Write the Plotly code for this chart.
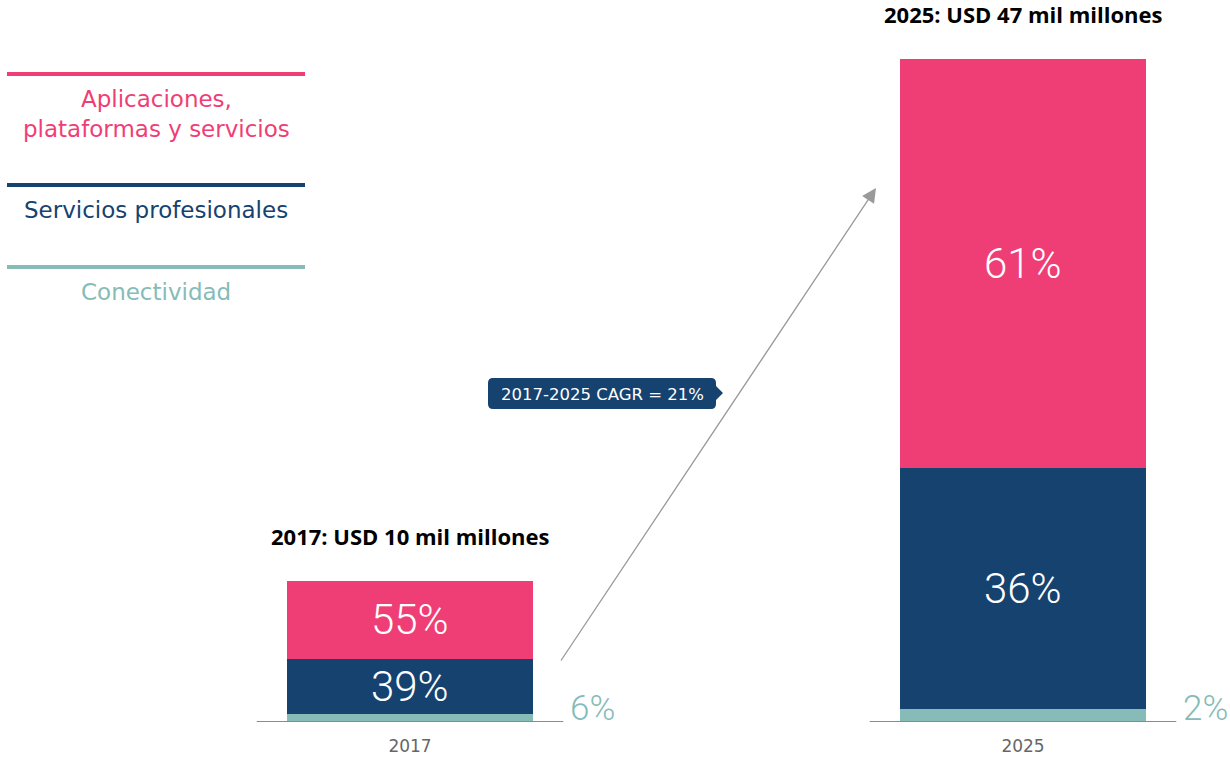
"""Mercado IoT: 2017 vs 2025, barras apiladas por segmento."""
import plotly.graph_objects as go

YEARS = ["2017", "2025"]
TOTALS = [10, 47]  # USD mil millones
SHARE_CONECTIVIDAD = [6, 2]
SHARE_SERVICIOS = [39, 36]
SHARE_APLICACIONES = [55, 61]
LEGEND_LABELS = ["Aplicaciones,<br>plataformas y servicios", "Servicios profesionales", "Conectividad"]
CAGR_TEXT = "2017-2025 CAGR = 21%"

PINK = "#EF3E75"
NAVY = "#164270"
TEAL = "#86BBB7"
GREY = "#8a8a8a"

W, H = 1230, 758
M_T, M_B = 17, 36
PCT_FONT = "Roboto, sans-serif"
TXT_FONT = "DejaVu Sans, sans-serif"
TITLE_FONT = "Open Sans, Noto Sans, sans-serif"


def px_x(px):
    return px / W


def px_y(py):
    return (H - M_B - py) / (H - M_T - M_B)


xs = list(range(len(YEARS)))
# las cuotas redondeadas no siempre suman 100: se reparten sobre el total
sums = [a + b + c for a, b, c in zip(SHARE_CONECTIVIDAD, SHARE_SERVICIOS, SHARE_APLICACIONES)]
vals_con = [t * s / n for t, s, n in zip(TOTALS, SHARE_CONECTIVIDAD, sums)]
vals_ser = [t * s / n for t, s, n in zip(TOTALS, SHARE_SERVICIOS, sums)]
vals_app = [t * s / n for t, s, n in zip(TOTALS, SHARE_APLICACIONES, sums)]

fig = go.Figure()
for name, vals, color in [
    ("Conectividad", vals_con, TEAL),
    ("Servicios profesionales", vals_ser, NAVY),
    ("Aplicaciones, plataformas y servicios", vals_app, PINK),
]:
    fig.add_trace(go.Bar(x=xs, y=vals, name=name, marker=dict(color=color, line=dict(width=0)),
                         width=0.401, showlegend=False))

annotations = []
shapes = []
for i, x in enumerate(xs):
    # línea base
    shapes.append(dict(type="line", xref="x", yref="y", x0=x - 0.25, x1=x + 0.25, y0=0, y1=0,
                       line=dict(color=GREY, width=2)))
    # etiquetas dentro de las barras
    base = vals_con[i]
    for vals, shares in [(vals_ser, SHARE_SERVICIOS), (vals_app, SHARE_APLICACIONES)]:
        annotations.append(dict(x=x, y=base + vals[i] / 2, xref="x", yref="y", showarrow=False,
                                text=f"{shares[i]}%",
                                font=dict(family=PCT_FONT, size=42, weight=300, color="white")))
        base += vals[i]
    annotations.append(dict(x=x + 0.257, y=0, xref="x", yref="y", xanchor="left", yanchor="bottom",
                            yshift=-9, showarrow=False, text=f"{SHARE_CONECTIVIDAD[i]}%",
                            font=dict(family=PCT_FONT, size=35, weight=300, color=TEAL)))
    # título encima de la barra
    annotations.append(dict(x=x, y=TOTALS[i], xref="x", yref="y", yanchor="bottom", yshift=28,
                            showarrow=False, text=f"<b>{YEARS[i]}: USD {TOTALS[i]} mil millones</b>",
                            font=dict(family=TITLE_FONT, size=22, color="black")))

# leyenda manual a la izquierda
for label, color, line_py, text_py in zip(LEGEND_LABELS, [PINK, NAVY, TEAL], [74, 185, 267], [114, 210, 292]):
    shapes.append(dict(type="line", xref="paper", yref="paper", x0=px_x(7), x1=px_x(305),
                       y0=px_y(line_py), y1=px_y(line_py), line=dict(color=color, width=4)))
    annotations.append(dict(x=px_x(156), y=px_y(text_py), xref="paper", yref="paper", showarrow=False,
                            xanchor="center", yanchor="middle", text=label,
                            font=dict(family=TXT_FONT, size=23, color=color)))

# flecha de crecimiento
annotations.append(dict(x=px_x(876), y=px_y(188), xref="paper", yref="paper", ax=560 - 876, ay=662 - 188,
                        text="", showarrow=True, arrowhead=2, arrowsize=2.2, arrowwidth=1.3, arrowcolor="#9a9a9a"))

# caja CAGR con esquinas redondeadas y pico a la derecha
x0, x1, y0, y1, r = 488, 716, 378, 409, 5
pts = [
    f"M {px_x(x0 + r)},{px_y(y0)}",
    f"L {px_x(x1 - r)},{px_y(y0)}",
    f"Q {px_x(x1)},{px_y(y0)} {px_x(x1)},{px_y(y0 + r)}",
    f"L {px_x(x1)},{px_y(386)}",
    f"L {px_x(723)},{px_y(393)}",
    f"L {px_x(x1)},{px_y(400)}",
    f"L {px_x(x1)},{px_y(y1 - r)}",
    f"Q {px_x(x1)},{px_y(y1)} {px_x(x1 - r)},{px_y(y1)}",
    f"L {px_x(x0 + r)},{px_y(y1)}",
    f"Q {px_x(x0)},{px_y(y1)} {px_x(x0)},{px_y(y1 - r)}",
    f"L {px_x(x0)},{px_y(y0 + r)}",
    f"Q {px_x(x0)},{px_y(y0)} {px_x(x0 + r)},{px_y(y0)} Z",
]
shapes.append(dict(type="path", xref="paper", yref="paper", path=" ".join(pts),
                   fillcolor=NAVY, line=dict(width=0)))
annotations.append(dict(x=px_x(602), y=px_y(394), xref="paper", yref="paper", showarrow=False,
                        xanchor="center", text=CAGR_TEXT, font=dict(family=TXT_FONT, size=16.5, color="white")))

fig.update_layout(
    width=W, height=H,
    margin=dict(l=0, r=0, t=M_T, b=M_B),
    barmode="stack",
    plot_bgcolor="white", paper_bgcolor="white",
    shapes=shapes, annotations=annotations,
    xaxis=dict(range=[-410 / 613, 1 + 207 / 613], tickvals=xs, ticktext=YEARS, showgrid=False,
               zeroline=False, showline=False, ticks="", ticklabelstandoff=12, automargin=False,
               tickfont=dict(family=TXT_FONT, size=17, color="#666666")),
    yaxis=dict(range=[0, 50], visible=False, showgrid=False, zeroline=False),
)

# sin margen del body para que la figura ocupe toda la ventana
fig.write_html("out.html", config={"displayModeBar": False},
               post_script="document.body.style.margin='0px';")
